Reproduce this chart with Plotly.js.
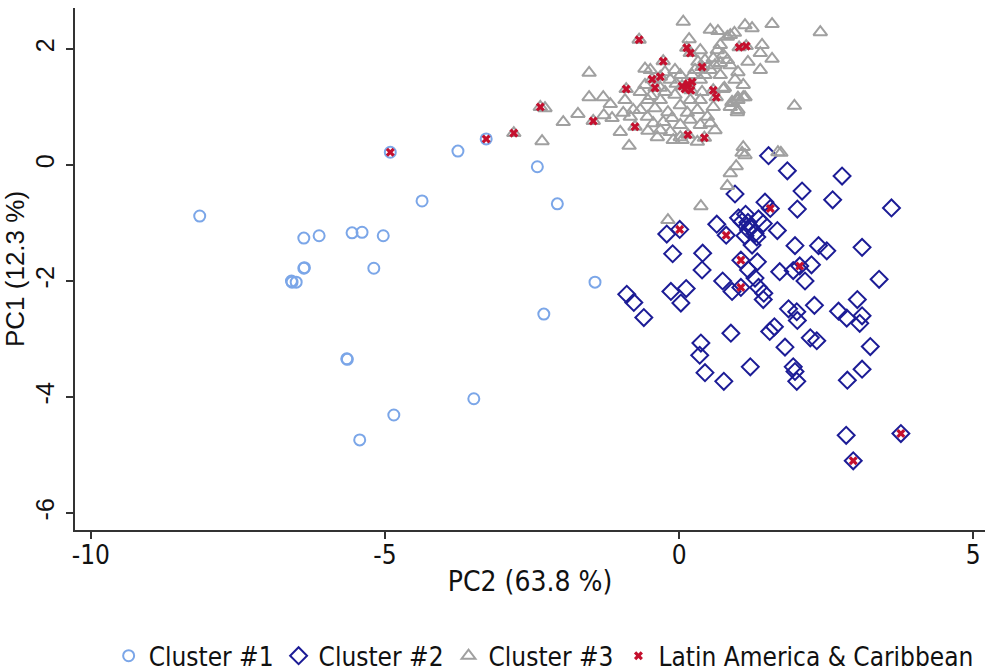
<!DOCTYPE html>
<html>
<head>
<meta charset="utf-8">
<script src="https://cdn.plot.ly/plotly-3.0.1.min.js"></script>
<style>html,body{margin:0;padding:0;background:#fff;}#chart{width:987px;height:672px;}</style>
</head>
<body>
<div id="chart"></div>
<script>
// Cluster #1 (circles)
const c1X = [-8.15,-6.38,-6.12,-5.56,-5.39,-5.03,-6.38,-6.37,-6.59,-6.58,-6.51,-5.19,-5.65,-5.64,-4.85,-5.43,-4.91,-4.37,-3.76,-3.28,-2.41,-2.07,-1.43,-2.30,-3.49];
const c1Y = [-0.88,-1.26,-1.22,-1.17,-1.16,-1.22,-1.78,-1.77,-2.00,-2.02,-2.02,-1.78,-3.34,-3.35,-4.31,-4.74,0.22,-0.62,0.24,0.45,-0.03,-0.67,-2.02,-2.57,-4.03];

// Cluster #2 (diamonds)
const c2X = [1.52,1.84,2.77,2.09,0.95,2.61,3.61,1.46,1.55,2.01,1.01,1.13,1.35,1.17,1.21,1.43,0.64,0.01,-0.21,0.80,1.67,1.12,1.32,1.24,1.97,2.37,2.51,3.11,-0.11,0.40,1.05,1.33,0.39,1.18,1.71,1.94,2.05,2.25,1.29,2.14,3.40,0.74,1.05,0.90,1.35,1.44,1.43,-0.14,0.12,0.03,-0.89,-0.77,-0.60,1.86,2.00,2.01,2.30,2.71,2.85,3.03,3.11,3.07,0.88,1.54,1.62,1.80,2.23,2.34,3.25,0.37,0.35,0.44,0.76,1.21,1.94,1.97,2.00,3.11,2.86,2.84,3.77,2.96,1.07,1.18,1.29];
const c2Y = [0.16,-0.10,-0.19,-0.45,-0.50,-0.60,-0.74,-0.64,-0.75,-0.76,-0.91,-0.85,-0.93,-0.99,-1.07,-1.01,-1.02,-1.11,-1.19,-1.21,-1.13,-1.22,-1.24,-1.38,-1.39,-1.39,-1.48,-1.42,-1.53,-1.52,-1.64,-1.67,-1.81,-1.81,-1.84,-1.82,-1.74,-1.72,-1.95,-2.00,-1.97,-2.00,-2.11,-2.18,-2.11,-2.21,-2.32,-2.18,-2.13,-2.38,-2.23,-2.37,-2.63,-2.48,-2.53,-2.68,-2.42,-2.52,-2.64,-2.32,-2.60,-2.73,-2.90,-2.87,-2.79,-3.14,-2.98,-3.03,-3.13,-3.07,-3.28,-3.58,-3.73,-3.48,-3.48,-3.56,-3.73,-3.52,-3.71,-4.66,-4.63,-5.10,-0.98,-1.12,-1.18];

// Cluster #3 (triangles)
const c3X = [0.07,0.53,0.66,0.87,0.94,1.12,1.24,1.58,2.40,-0.68,0.17,0.13,0.19,0.65,0.75,0.58,0.82,0.70,1.02,1.14,1.41,1.38,1.58,1.17,-0.27,0.39,-0.58,-1.53,0.95,-0.46,-0.32,-0.41,-0.90,0.05,0.15,0.20,0.58,0.63,0.75,-1.53,-1.29,-1.17,-2.36,-2.28,-1.72,-1.97,-1.46,-1.28,-0.95,-0.78,-0.83,-0.75,-0.85,-2.81,-2.33,-0.54,-0.44,-0.53,-0.32,-0.37,-0.27,-0.15,0.15,0.43,0.02,0.31,-0.10,0.14,0.31,0.48,0.36,0.58,0.53,1.09,1.07,1.12,1.68,1.73,0.97,0.87,0.82,0.37,-0.19,0.05,0.90,1.00,1.12,1.00,0.87,1.96,0.82,0.77,1.00,1.09,0.90,0.99,-0.49,-0.24,-0.07,0.02,-0.15,-0.58,-0.66,-0.24,-0.07,-0.32,-0.53,0.36,0.44,0.27,0.53,0.61,0.70,0.39,0.19,0.02,-0.66,-0.41,-0.19,0.19,0.36,0.61,0.02,-0.12,0.44,0.87,1.00,1.38,1.09,0.70,0.36,-0.92,-1.14,-1.00,-0.32,-0.05,-0.48,0.22,0.32];
const c3Y = [2.47,2.33,2.31,2.24,2.28,2.41,2.36,2.43,2.29,2.16,2.17,2.02,1.93,1.98,1.90,1.84,1.81,1.76,2.03,2.05,2.07,1.93,1.83,1.78,1.79,1.69,1.66,1.59,1.47,1.48,1.52,1.33,1.31,1.36,1.40,1.29,1.29,1.17,1.31,1.17,1.17,1.05,1.00,0.98,0.88,0.74,0.76,0.86,0.90,0.95,0.83,0.66,0.33,0.55,0.41,0.83,0.72,0.59,0.60,0.48,0.74,0.57,0.52,0.47,0.48,0.40,0.43,0.90,0.95,0.83,1.12,1.00,0.72,0.31,0.21,0.17,0.22,0.21,-0.02,-0.14,-0.36,-0.71,-0.95,0.43,1.09,1.12,1.17,0.95,1.00,1.02,2.21,1.33,1.16,1.17,1.07,0.91,1.64,1.60,1.64,1.55,1.47,1.38,1.26,1.26,1.21,1.12,1.12,1.47,1.55,1.64,1.64,1.72,1.55,1.26,1.12,1.03,0.95,0.98,0.91,0.78,0.69,0.60,0.69,0.81,1.81,1.72,1.60,1.64,1.38,2.07,1.98,1.12,0.81,0.57,1.33,1.40,1.19,1.55,1.78];

// Latin America & Caribbean (x markers)
const lacX = [-4.91,-3.28,-2.81,-2.36,-1.46,-0.90,-0.75,-0.68,-0.27,-0.46,-0.32,-0.41,0.13,0.19,0.05,0.15,0.20,0.10,0.22,0.39,0.58,0.63,0.15,0.43,1.02,1.14,1.55,0.01,0.80,1.05,1.05,2.05,3.77,2.96];
const lacY = [0.22,0.45,0.55,1.00,0.76,1.31,0.66,2.16,1.79,1.48,1.52,1.33,2.02,1.93,1.36,1.40,1.29,1.31,1.43,1.69,1.29,1.17,0.52,0.47,2.03,2.05,-0.75,-1.11,-1.21,-1.64,-2.11,-1.74,-4.63,-5.10];

const narrow = '"DejaVu Sans Condensed", "Liberation Sans Narrow", sans-serif';
const regular = '"Liberation Sans", Arial, sans-serif';

const traces = [
  {x: c1X, y: c1Y, name: 'Cluster #1', type: 'scatter', mode: 'markers',
   marker: {symbol: 'circle-open', size: 11, color: '#7ba6e8', line: {width: 2, color: '#7ba6e8'}}},
  {x: c2X, y: c2Y, name: 'Cluster #2', type: 'scatter', mode: 'markers',
   marker: {symbol: 'diamond-open', size: 13, color: '#1c1c96', line: {width: 2, color: '#1c1c96'}}},
  {x: c3X, y: c3Y, name: 'Cluster #3', type: 'scatter', mode: 'markers',
   marker: {symbol: 'triangle-up-open', size: 12, color: '#a0a0a0', line: {width: 2, color: '#a0a0a0'}}},
  {x: lacX, y: lacY, name: 'Latin America & Caribbean', type: 'scatter', mode: 'markers',
   marker: {symbol: 'x', size: 8, color: '#c4102e', line: {width: 0}}}
];

const layout = {
  width: 987, height: 672,
  margin: {l: 75, r: 2, t: 8, b: 142, autoexpand: false},
  paper_bgcolor: '#fff', plot_bgcolor: '#fff',
  showlegend: true,
  legend: {orientation: 'h', x: 0.515, xanchor: 'center', y: -0.241, yanchor: 'middle',
           font: {family: narrow, size: 26, color: '#111'}, itemwidth: 30, tracegroupgap: 0},
  xaxis: {range: [-10.27, 5.2], tickvals: [-10, -5, 0, 5], ticktext: ['-10', '-5', '0', '5'],
          automargin: false,
          showgrid: false, zeroline: false, showline: true, linecolor: '#333', linewidth: 2,
          ticks: 'outside', ticklen: 7, tickwidth: 2, tickcolor: '#333', ticklabelstandoff: -6,
          tickfont: {family: narrow, size: 26, color: '#111'},
          title: {text: 'PC2 (63.8 %)', font: {family: narrow, size: 28, color: '#111'}, standoff: 2}},
  yaxis: {range: [-6.293, 2.707], tickvals: [-6, -4, -2, 0, 2], ticktext: ['-6', '-4', '-2', '0', '2'],
          automargin: false,
          showgrid: false, zeroline: false, showline: true, linecolor: '#333', linewidth: 2,
          ticks: 'outside', ticklen: 7, tickwidth: 2, tickcolor: '#333', tickangle: -90,
          ticklabelstandoff: 2,
          tickfont: {family: regular, size: 25, color: '#111'},
          title: {text: 'PC1 (12.3 %)', font: {family: regular, size: 26, color: '#111'}, standoff: 4}}
};

Plotly.newPlot('chart', traces, layout, {displayModeBar: false, responsive: false});
</script>
</body>
</html>
